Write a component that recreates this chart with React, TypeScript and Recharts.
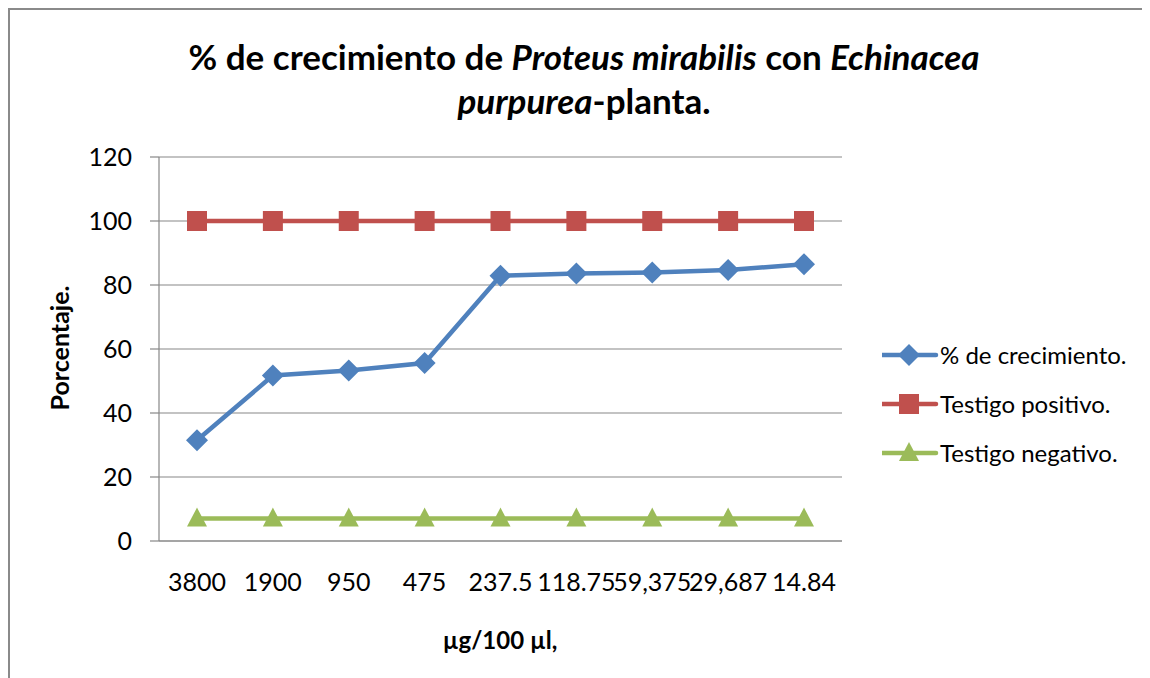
import React from "react";
import {
  CartesianGrid,
  Legend,
  Line,
  LineChart,
  XAxis,
  YAxis,
} from "recharts";

// concentrations (µg/100 µl) as printed on the axis
const doses = ["3800", "1900", "950", "475", "237.5", "118.75", "59,375", "29,687", "14.84"];
const growth = [31.5, 51.7, 53.3, 55.6, 82.9, 83.6, 83.9, 84.7, 86.5];
const positiveControl = [100, 100, 100, 100, 100, 100, 100, 100, 100];
const negativeControl = [7, 7, 7, 7, 7, 7, 7, 7, 7];
const yTicks = [0, 20, 40, 60, 80, 100, 120];

const BLUE = "#4f81bd";
const RED = "#c0504d";
const GREEN = "#9bbb59";
const GRID = "#878787";
const FONT = "Lato, 'Open Sans', sans-serif";

const data = doses.map((dose, i) => ({
  dose,
  growth: growth[i],
  positive: positiveControl[i],
  negative: negativeControl[i],
}));

const Diamond = (props: any) => {
  const { cx, cy, fill } = props;
  if (cx == null || cy == null) return null;
  const r = 11;
  return (
    <polygon
      points={`${cx},${cy - r} ${cx + r},${cy} ${cx},${cy + r} ${cx - r},${cy}`}
      fill={fill}
    />
  );
};

const Square = (props: any) => {
  const { cx, cy, fill } = props;
  if (cx == null || cy == null) return null;
  return <rect x={cx - 10} y={cy - 10} width={20} height={20} fill={fill} />;
};

const Triangle = (props: any) => {
  const { cx, cy, fill } = props;
  if (cx == null || cy == null) return null;
  return (
    <polygon
      points={`${cx},${cy - 11} ${cx + 10},${cy + 8} ${cx - 10},${cy + 8}`}
      fill={fill}
    />
  );
};

const legendItems = [
  { label: "% de crecimiento.", color: BLUE, Marker: Diamond },
  { label: "Testigo positivo.", color: RED, Marker: Square },
  { label: "Testigo negativo.", color: GREEN, Marker: Triangle },
];

const LegendContent = () => (
  <div style={{ fontFamily: FONT, fontSize: 24, color: "#000", whiteSpace: "nowrap" }}>
    {legendItems.map(({ label, color, Marker }) => (
      <div key={label} style={{ display: "flex", alignItems: "center", height: 49 }}>
        <svg width={58} height={26}>
          <line x1={0} y1={13} x2={54} y2={13} stroke={color} strokeWidth={4.5} strokeLinecap="round" />
          <Marker cx={27} cy={13} fill={color} />
        </svg>
        <span>{label}</span>
      </div>
    ))}
  </div>
);

const App = () => {
  return (
    <div
      style={{
        position: "relative",
        width: 1142,
        height: 670,
        boxSizing: "border-box",
        borderTop: "2px solid #8a8a8a",
        borderLeft: "2px solid #8a8a8a",
        background: "#fff",
        fontFamily: FONT,
      }}
    >
      <div
        style={{
          position: "absolute",
          left: 0,
          width: 1148,
          top: 24,
          textAlign: "center",
          fontSize: 35,
          fontWeight: 700,
          lineHeight: "44px",
          color: "#000",
        }}
      >
        % de crecimiento de <i>Proteus mirabilis</i> con <i>Echinacea</i>
        <br />
        <i>purpurea</i>-planta.
      </div>
      <div
        style={{
          position: "absolute",
          left: 49,
          top: 338,
          transform: "translate(-50%, -50%) rotate(-90deg)",
          fontSize: 25,
          fontWeight: 700,
          whiteSpace: "nowrap",
        }}
      >
        Porcentaje.
      </div>
      <div
        style={{
          position: "absolute",
          left: 490,
          top: 629,
          transform: "translate(-50%, -50%)",
          fontSize: 24,
          fontWeight: 700,
          whiteSpace: "nowrap",
        }}
      >
        µg/100 µl,
      </div>
      <LineChart
        width={1140}
        height={668}
        data={data}
        margin={{ top: 147, right: 48, bottom: 97, left: 49 }}
      >
        <CartesianGrid horizontal vertical={false} stroke={GRID} strokeWidth={1.2} />
        <XAxis
          dataKey="dose"
          interval={0}
          padding={{ left: 38, right: 38 }}
          height={40}
          axisLine={{ stroke: GRID, strokeWidth: 1.2 }}
          tickLine={false}
          tickSize={0}
          tickMargin={32}
          tick={{ fill: "#000", fontSize: 25, fontFamily: FONT }}
        />
        <YAxis
          domain={[0, 120]}
          ticks={yTicks}
          width={100}
          axisLine={{ stroke: GRID, strokeWidth: 1.2 }}
          tickLine={{ stroke: GRID, strokeWidth: 1.2 }}
          tickSize={9}
          tickMargin={18}
          tick={{ fill: "#000", fontSize: 25, fontFamily: FONT }}
        />
        <Legend
          layout="vertical"
          align="right"
          verticalAlign="middle"
          content={LegendContent}
          wrapperStyle={{ width: 260, left: 872, top: 320 }}
        />
        <Line
          dataKey="growth"
          name="% de crecimiento."
          stroke={BLUE}
          strokeWidth={4.5}
          dot={<Diamond fill={BLUE} />}
          isAnimationActive={false}
        />
        <Line
          dataKey="positive"
          name="Testigo positivo."
          stroke={RED}
          strokeWidth={4.5}
          dot={<Square fill={RED} />}
          isAnimationActive={false}
        />
        <Line
          dataKey="negative"
          name="Testigo negativo."
          stroke={GREEN}
          strokeWidth={4.5}
          dot={<Triangle fill={GREEN} />}
          isAnimationActive={false}
        />
      </LineChart>
    </div>
  );
};

export default App;
